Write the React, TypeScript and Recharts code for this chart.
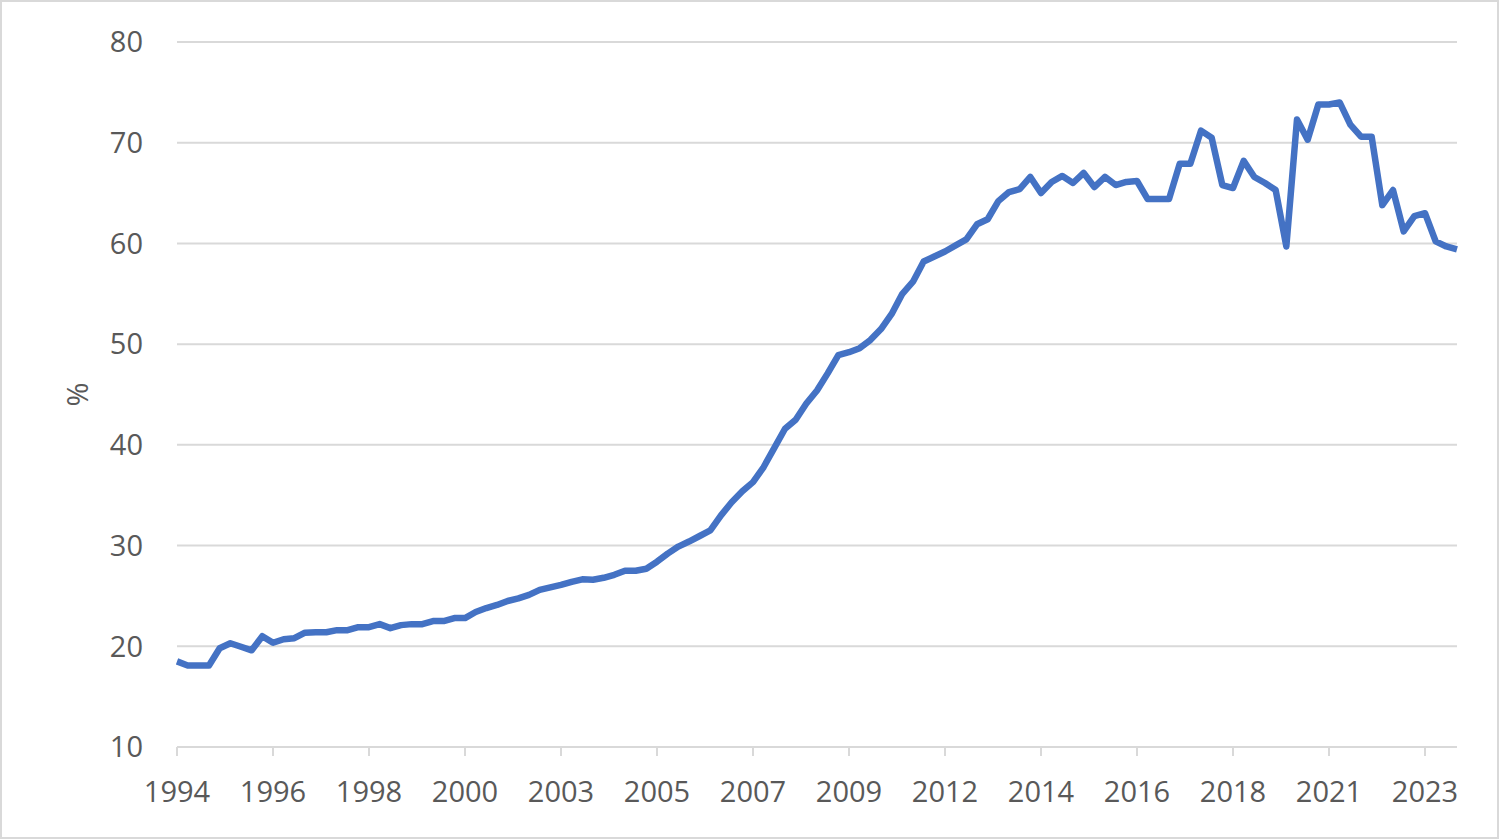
import { LineChart, Line, XAxis, YAxis, CartesianGrid, Label } from "recharts";

// Quarterly series, 1994Q1 .. 2024Q1
const START_YEAR = 1994;
const QUARTERS = ["Q1", "Q2", "Q3", "Q4"];

const SHARE_PCT = [
  18.5, 18.1, 18.1, 18.1, // 1994
  19.8, 20.3, 19.95, 19.6, // 1995
  21.0, 20.35, 20.7, 20.8, // 1996
  21.35, 21.4, 21.4, 21.6, // 1997
  21.6, 21.9, 21.9, 22.2, // 1998
  21.8, 22.1, 22.2, 22.2, // 1999
  22.5, 22.5, 22.8, 22.8, // 2000
  23.4, 23.8, 24.1, 24.5, // 2001
  24.75, 25.1, 25.6, 25.85, // 2002
  26.1, 26.4, 26.65, 26.6, // 2003
  26.8, 27.1, 27.5, 27.5, // 2004
  27.7, 28.4, 29.2, 29.9, // 2005
  30.4, 30.95, 31.5, 33.0, // 2006
  34.3, 35.4, 36.3, 37.8, // 2007
  39.7, 41.6, 42.5, 44.1, // 2008
  45.4, 47.1, 48.9, 49.2, // 2009
  49.6, 50.4, 51.5, 53.0, // 2010
  55.0, 56.2, 58.2, 58.7, // 2011
  59.2, 59.8, 60.4, 61.9, // 2012
  62.4, 64.2, 65.1, 65.4, // 2013
  66.6, 65.0, 66.1, 66.7, // 2014
  66.0, 67.0, 65.6, 66.6, // 2015
  65.8, 66.1, 66.2, 64.4, // 2016
  64.4, 64.4, 67.9, 67.9, // 2017
  71.2, 70.5, 65.8, 65.5, // 2018
  68.2, 66.6, 66.0, 65.3, // 2019
  59.7, 72.3, 70.3, 73.8, // 2020
  73.8, 74.0, 71.8, 70.6, // 2021
  70.6, 63.8, 65.3, 61.2, // 2022
  62.7, 63.0, 60.2, 59.7, // 2023
  59.4, // 2024
];

const Y_TICKS = [10, 20, 30, 40, 50, 60, 70, 80];

const TEXT_COLOR = "#595959";
const GRID_COLOR = "#d9d9d9";
const LINE_COLOR = "#4472c4";
const FONT = "'Open Sans', 'Noto Sans', sans-serif";
const FONT_SIZE = 29;

const data = SHARE_PCT.map((value, i) => ({
  quarter: `${START_YEAR + Math.floor(i / 4)}${QUARTERS[i % 4]}`,
  value,
}));

export default function App() {
  return (
    <div style={{ position: "absolute", left: 0, top: 0, width: 1499, height: 839, background: "#fff" }}>
      <LineChart
        width={1499}
        height={839}
        data={data}
        margin={{ top: 42, right: 42, bottom: 32, left: 0 }}
        style={{ fontFamily: FONT }}
      >
        <CartesianGrid vertical={false} stroke={GRID_COLOR} strokeWidth={2} />
        <XAxis
          dataKey="quarter"
          interval={8}
          height={60}
          tickFormatter={(q: string) => q.slice(0, 4)}
          tick={{ fill: TEXT_COLOR, fontSize: FONT_SIZE }}
          axisLine={{ stroke: GRID_COLOR, strokeWidth: 2 }}
          tickLine={{ stroke: GRID_COLOR, strokeWidth: 2 }}
          tickSize={9}
          tickMargin={25}
        />
        <YAxis
          width={177}
          domain={[10, 80]}
          ticks={Y_TICKS}
          axisLine={false}
          tickLine={false}
          tickMargin={28}
          tick={{ fill: TEXT_COLOR, fontSize: FONT_SIZE }}
        >
          <Label
            content={({ viewBox }: any) => {
              const cy = viewBox ? viewBox.y + viewBox.height / 2 : 395;
              return (
                <text
                  x={76}
                  y={cy}
                  transform={`rotate(-90, 76, ${cy})`}
                  textAnchor="middle"
                  dominantBaseline="central"
                  fill={TEXT_COLOR}
                  fontSize={FONT_SIZE}
                  fontFamily={FONT}
                >
                  %
                </text>
              );
            }}
          />
        </YAxis>
        <Line
          type="linear"
          dataKey="value"
          stroke={LINE_COLOR}
          strokeWidth={6.5}
          strokeLinejoin="round"
          dot={false}
          isAnimationActive={false}
        />
      </LineChart>
      <div
        style={{
          position: "absolute",
          left: 0,
          top: 0,
          width: 1499,
          height: 839,
          boxSizing: "border-box",
          border: "2px solid #d9d9d9",
          pointerEvents: "none",
        }}
      />
    </div>
  );
}
